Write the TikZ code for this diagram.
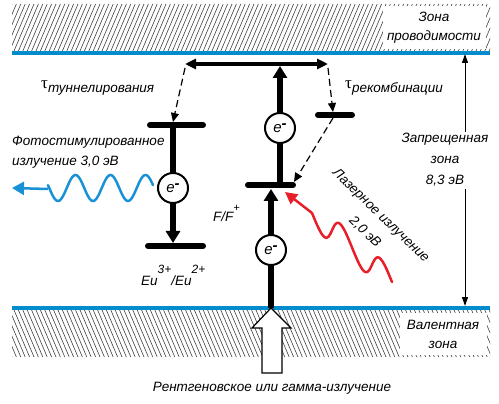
\documentclass[tikz,border=0pt]{standalone}
\usepackage{fontspec}
\setmainfont{Liberation Sans}
\newfontfamily\taufont{Liberation Serif}
\usetikzlibrary{arrows.meta}
\definecolor{bandblue}{RGB}{0,140,205}
\definecolor{waveblue}{RGB}{25,145,215}
\definecolor{wavered}{RGB}{232,30,40}
\begin{document}
\begin{tikzpicture}[x=1pt,y=-1pt,
  font=\fontsize{13.5}{16}\selectfont\itshape,
  hatchline/.style={line width=0.6pt, black!75},
  bandline/.style={line width=3.5pt, bandblue},
  lvl/.style={line width=6pt, line cap=round},
  vert/.style={line width=6pt, -{Triangle[length=12pt,width=14pt]}},
  topbar/.style={line width=4pt, {Triangle[length=11pt,width=10pt]}-{Triangle[length=11pt,width=10pt]}},
  dasharr/.style={line width=1.2pt, dash pattern=on 7pt off 4pt, -{Triangle[length=9pt,width=8pt]}},
  electron/.style={circle, draw, line width=2pt, fill=white, minimum size=30pt, inner sep=0pt, font=\fontsize{15}{15}\selectfont\itshape},
  gaparr/.style={line width=1pt, -{Triangle[length=9pt,width=6pt]}},
  boxlabel/.style={fill=white, inner sep=0pt, align=center, font=\fontsize{13.5}{19}\selectfont\itshape},
  lbl/.style={inner sep=0pt, align=left},
  wavestyle/.style={line width=2.5pt, line cap=round}
]
\useasboundingbox (0,0) rectangle (499,404);

% ---- conduction band ----
\begin{scope}
  \clip (12,4) rectangle (490,51);
  \foreach \i in {0,...,115} \draw[hatchline] ({12+4.4*\i-20},51) -- ++(20,-47);
\end{scope}
\fill[white] (383,6) rectangle (486,49);
\node[boxlabel] (cb) at (434,28) {Зона\\проводимости};
\coordinate (cbl) at (12,53);
\coordinate (cbr) at (490,53);
\draw[bandline] (cbl) -- (cbr);

% ---- valence band ----
\begin{scope}
  \clip (12,310) rectangle (490,357);
  \foreach \i in {0,...,115} \draw[hatchline] ({12+4.4*\i-20},310) -- ++(20,47);
\end{scope}
\fill[white] (400,313) rectangle (487,355);
\node[boxlabel] (vb) at (443,334) {Валентная\\зона};
\coordinate (vbl) at (12,308);
\coordinate (vbr) at (490,308);
\draw[bandline] (vbl) -- (vbr);

% ---- coordinates ----
\coordinate (tbL) at (185,64);
\coordinate (tbR) at (328,64);
\coordinate (tbC) at (280,66);
\coordinate (fL) at (248,185);
\coordinate (fR) at (293,185);
\coordinate (fU) at (280,185);
\coordinate (fD) at (271,189);
\coordinate (vbC) at (271,308);
\coordinate (euTL) at (150,125);
\coordinate (euTR) at (203,125);
\coordinate (euT) at (173,125);
\coordinate (euBL) at (148,246);
\coordinate (euBR) at (203,246);
\coordinate (euB) at (173,243);
\coordinate (rL) at (318,115);
\coordinate (rR) at (352,115);
\coordinate (rTop) at (333,112);
\coordinate (rBot) at (333,118);
\coordinate (dL1) at (185,68);
\coordinate (dL2) at (173,122);
\coordinate (dR1) at (328,68);
\coordinate (fTip) at (294,182);

% ---- levels ----
\draw[lvl] (euTL) -- (euTR);
\draw[lvl] (euBL) -- (euBR);
\draw[lvl] (fL) -- (fR);
\draw[lvl] (rL) -- (rR);

% ---- thick transitions ----
\draw[topbar] (tbL) -- (tbR);
\draw[vert] (fU) -- (tbC);
\draw[vert] (vbC) -- (fD);
\draw[vert] (euT) -- (euB);

% ---- electrons ----
\node[electron] (e1) at (280,128) {e\raisebox{4pt}{\textbf{-}}};
\node[electron] (e2) at (271,250) {e\raisebox{4pt}{\textbf{-}}};
\node[electron] (e3) at (173,188) {e\raisebox{4pt}{\textbf{-}}};

% ---- dashed ----
\draw[dasharr] (dL1) -- (dL2);
\draw[dasharr] (dR1) -- (rTop);
\draw[dasharr] (rBot) -- (fTip);

% ---- labels ----
\node[lbl, anchor=west] (tt) at (41,88) {{\taufont\upshape\fontsize{17}{17}\selectfont τ}\raisebox{-5pt}{туннелирования}};
\node[lbl, anchor=west] (tr) at (345,88) {{\taufont\upshape\fontsize{17}{17}\selectfont τ}\raisebox{-5pt}{рекомбинации}};
\node[lbl, anchor=west, font=\fontsize{13.5}{20}\selectfont\itshape] (photo) at (12,152) {Фотостимулированное\\излучение 3,0 эВ};
\node[lbl, anchor=base west] (ff) at (213,222) {F/F\raisebox{10pt}{\fontsize{11}{11}\selectfont +}};
\node[lbl, anchor=base west] (eu) at (141,285) {Eu\raisebox{12pt}{\fontsize{12}{12}\selectfont 3+}/Eu\raisebox{12pt}{\fontsize{12}{12}\selectfont 2+}};
\node[lbl, rotate=-44, align=center, font=\fontsize{13.5}{23}\selectfont\itshape] (laser) at (373,224) {Лазерное излучение\\2,0 эВ};
\node[lbl, anchor=center] (xray) at (272,388) {Рентгеновское или гамма-излучение};

% ---- band gap ----
\node[lbl, align=center, font=\fontsize{13.5}{21}\selectfont\itshape] (gap) at (445,160) {Запрещенная\\зона\\8,3 эВ};
\coordinate (gT) at (465,132);
\coordinate (gB) at (465,189);
\coordinate (gTop) at (465,54);
\coordinate (gBot) at (465,306);
\draw[gaparr] (gT) -- (gTop);
\draw[gaparr] (gB) -- (gBot);

% ---- blue wave (photostimulated emission) ----
\coordinate (bTip) at (12,188);
\draw[wavestyle, waveblue] plot[domain=48:153, samples=120, smooth] (\x, {188+13*cos(10.2857*(\x-58))});
\draw[line width=2.5pt, waveblue, -{Triangle[length=12pt,width=13pt]}] (48,189) -- (bTip);

% ---- red wave (laser) ----
\coordinate (rTip) at (285,192);
\coordinate (rWaveEnd) at (312,213);
\draw[wavestyle, wavered] plot[domain=0:105.6, samples=160, smooth]
  ({392-0.757*\x-2*sin(6.818*\x)}, {282-0.653*\x-15*sin(6.818*\x)});
\draw[line width=2.5pt, wavered, -{Triangle[length=12pt,width=12pt]}] (rWaveEnd) -- (rTip);

% ---- white X-ray arrow ----
\draw[line width=1.2pt, fill=white, line join=miter]
  (271,308) -- (291,328) -- (282,328) -- (282,373) -- (262,373) -- (262,328) -- (252,328) -- cycle;
\end{tikzpicture}
\end{document}
